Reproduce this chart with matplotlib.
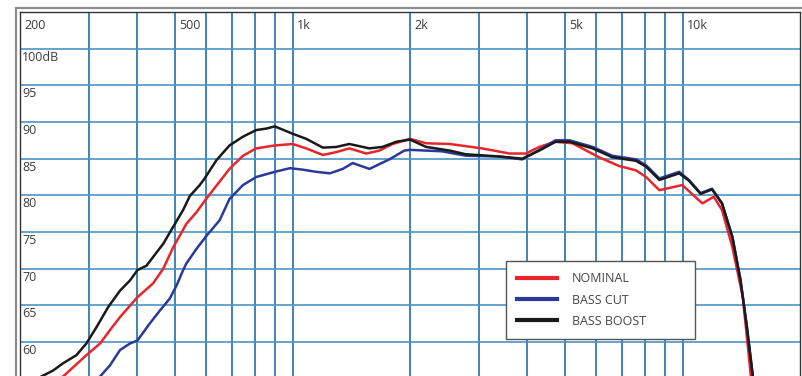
import matplotlib
matplotlib.use('Agg')
import matplotlib.pyplot as plt
from matplotlib.patches import Rectangle
from matplotlib.transforms import offset_copy

# Frequency response readings (Hz, dB SPL)
boost_freq = [215, 227, 243, 258, 279, 296, 314, 337, 361, 383, 400, 422, 439, 466,
              494, 524, 545, 578, 595, 638, 689, 746, 807, 856, 900, 1000, 1084,
              1196, 1295, 1398, 1574, 1700, 1843, 2000, 2200, 2530,
              2780, 3380, 3880, 4290, 4720, 5130, 5880, 6600, 7600, 8060, 8720,
              9800, 10380, 11120, 11900, 12620, 13420, 14080, 14620, 15110, 15400]
boost_db = [54.5, 55.3, 56.1, 57.1, 58.2, 59.8, 62.0, 64.8, 67.0, 68.4, 69.8, 70.4, 71.6, 73.4,
            75.7, 78.0, 79.9, 81.4, 82.3, 84.8, 86.8, 88.0, 88.9, 89.1, 89.4, 88.4, 87.7,
            86.5, 86.6, 87.0, 86.4, 86.6, 87.3, 87.6, 86.6, 86.1,
            85.6, 85.3, 85.0, 86.1, 87.3, 87.3, 86.4, 85.2, 84.7, 83.9, 82.1,
            83.0, 82.0, 80.2, 80.8, 78.9, 74.3, 68.4, 62.0, 55.7, 52.0]

nominal_freq = [240, 258, 277, 296, 321, 340, 361, 400, 439, 466, 494, 534, 567, 602,
                644, 689, 746, 807, 900, 1000, 1084, 1196, 1295, 1398, 1545, 1670,
                1805, 2000, 2200, 2530, 3060, 3600, 3970,
                4290, 4720, 5220, 6100, 6870, 7600, 8060, 8720, 9980, 11240,
                12020, 12620, 13420, 14270, 14880, 15100]
nominal_db = [54.3, 55.3, 56.8, 58.2, 59.8, 61.6, 63.4, 66.1, 68.0, 70.0, 72.9, 76.1, 77.7, 79.6,
              81.6, 83.6, 85.4, 86.4, 86.8, 87.0, 86.4, 85.5, 85.9, 86.4, 85.7, 86.1,
              87.0, 87.7, 87.1, 87.0, 86.4, 85.7, 85.7,
              86.6, 87.3, 87.1, 85.2, 84.0, 83.4, 82.5, 80.7, 81.4, 78.9,
              79.8, 78.0, 72.9, 66.1, 56.6, 53.0]

cut_freq = [305, 321, 340, 361, 383, 400, 430, 457, 484, 504, 524, 534, 567, 602, 650,
            689, 746, 807, 900, 984, 1062, 1150, 1246, 1344, 1426, 1574, 1770, 1934,
            2000, 2420, 2780, 3380, 3880, 4290,
            4720, 5130, 5880, 6600, 7600, 8060, 8720, 9800, 10380, 11120, 11900,
            12620, 13420, 14080, 14620, 15110, 15400]
cut_db = [54.5, 55.3, 56.8, 58.9, 59.8, 60.2, 62.5, 64.3, 65.9, 67.7, 69.8, 70.7, 72.7, 74.5, 76.6,
          79.5, 81.4, 82.5, 83.2, 83.7, 83.5, 83.2, 83.0, 83.6, 84.4, 83.6, 84.9, 86.1,
          86.2, 86.0, 85.4, 85.3, 84.9, 86.2,
          87.5, 87.5, 86.6, 85.4, 84.9, 84.1, 82.3, 83.2, 82.1, 80.3, 80.9,
          78.9, 74.3, 68.4, 62.0, 55.7, 52.0]

freq_grid = [200, 300, 400, 500, 600, 700, 800, 900,
             1000, 2000, 3000, 4000, 5000, 6000, 7000, 8000, 9000, 10000]
freq_labels = {200: '200', 500: '500', 1000: '1k', 2000: '2k', 5000: '5k', 10000: '10k'}
db_grid = [60, 65, 70, 75, 80, 85, 90, 95, 100]
db_labels = ['60', '65', '70', '75', '80', '85', '90', '95', '100dB']

plt.rcParams['font.family'] = ['Open Sans', 'DejaVu Sans']

fig = plt.figure(figsize=(8.03, 3.76), dpi=100)
ax = fig.add_axes([20 / 803, 0, 780 / 803, 364 / 376])
ax.set_xscale('log')
ax.set_xlim(200, 20000)
ax.set_ylim(55.36, 105)

# grid lines
for f in freq_grid:
    ax.axvline(f, color='#1f6fae', lw=1.2, zorder=1)
for d in db_grid:
    ax.axhline(d, color='#4a93c6', lw=1.2, zorder=1)

ax.set_xticks([])
ax.set_yticks([])
ax.minorticks_off()
ax.tick_params(which='both', length=0, labelbottom=False, labelleft=False)

for s in ['left', 'top', 'right']:
    ax.spines[s].set_color('#333333')
    ax.spines[s].set_linewidth(1.0)
ax.spines['bottom'].set_visible(False)

# labels inside the plot
txt_color = '#3c3c3c'
for f, lab in freq_labels.items():
    tr = offset_copy(ax.transData, fig=fig, x=4, y=0, units='dots')
    ax.text(f, 103.2, lab, transform=tr, fontsize=9, color=txt_color,
            va='center', ha='left')
for d, lab in zip(db_grid, db_labels):
    tr = offset_copy(ax.transData, fig=fig, x=2, y=0, units='dots')
    ax.text(200, d - 1.15, lab, transform=tr, fontsize=9, color=txt_color,
            va='center', ha='left')

# curves
ax.plot(nominal_freq, nominal_db, color='#e8262a', lw=1.8, label='NOMINAL', zorder=3)
ax.plot(cut_freq, cut_db, color='#2b3a9a', lw=1.8, label='BASS CUT', zorder=3)
ax.plot(boost_freq, boost_db, color='#1a1a1a', lw=1.8, label='BASS BOOST', zorder=4)

leg = ax.legend(loc='upper left',
                bbox_to_anchor=(506 / 803, 1 - 265 / 376, 189 / 803, 0.01),
                bbox_transform=fig.transFigure, mode='expand',
                fontsize=9, frameon=True, fancybox=False, borderaxespad=0,
                handlelength=3.2, handletextpad=1.2, borderpad=0.9,
                labelspacing=0.65)
leg.get_frame().set_edgecolor('#555555')
leg.get_frame().set_linewidth(1.0)
leg.get_frame().set_alpha(1)
for line in leg.get_lines():
    line.set_linewidth(3.0)
for t in leg.get_texts():
    t.set_color('#444444')

# outer border around the chart
fig.add_artist(Rectangle((16 / 803, -0.1), 1.0, 1.1 - 8 / 376,
                         transform=fig.transFigure, fill=False,
                         edgecolor='#8c8c8c', lw=1.6))

fig.savefig('out.png', dpi=100)
